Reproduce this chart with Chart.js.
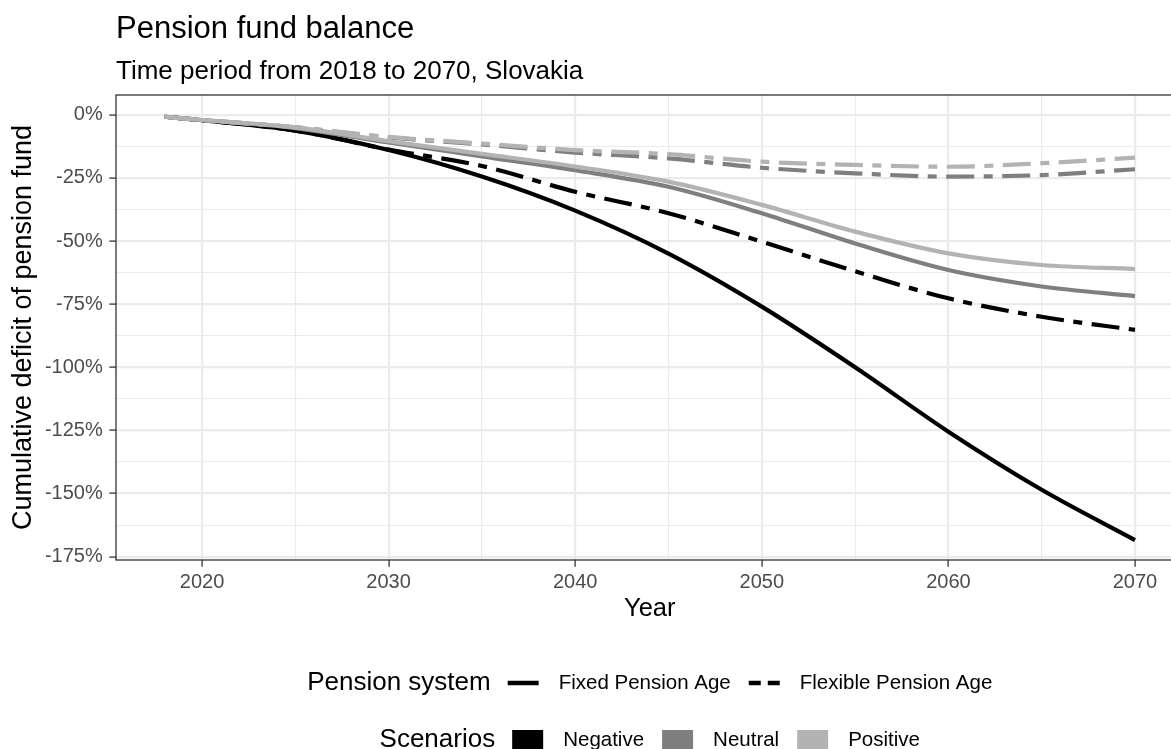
<!DOCTYPE html>
<html>
<head>
<meta charset="utf-8">
<script src="https://cdn.jsdelivr.net/npm/chart.js@4.4.1/dist/chart.umd.min.js"></script>
<style>
  html, body { margin: 0; padding: 0; background: #ffffff; overflow: hidden; }
  #wrap { width: 1200px; height: 749px; }
</style>
</head>
<body>
<div id="wrap"><canvas id="c" width="1200" height="749"></canvas></div>
<script>
// ---------------- data ----------------
const years = [2018, 2020, 2025, 2030, 2035, 2040, 2045, 2050, 2055, 2060, 2065, 2070];
const scenarios = ['Negative', 'Neutral', 'Positive'];
const systems = ['Fixed Pension Age', 'Flexible Pension Age'];

const fixedNegative    = [-0.8, -2.2, -6.3, -14.0, -24.5, -38.0, -55.0, -76.0, -100.0, -125.5, -148.5, -168.4];
const fixedNeutral     = [-0.8, -2.1, -5.3, -11.0, -16.5, -22.0, -28.5, -39.0,  -51.0,  -61.5,  -68.0,  -71.8];
const fixedPositive    = [-0.8, -2.1, -5.0, -10.5, -15.5, -20.5, -26.5, -35.7,  -46.3,  -54.9,  -59.5,  -61.1];
const flexibleNegative = [-0.8, -2.2, -6.3, -13.8, -20.3, -30.5, -39.0, -50.3,  -62.0,  -72.7,  -80.0,  -85.2];
const flexibleNeutral  = [-0.8, -2.1, -5.0,  -9.0, -11.8, -15.0, -17.3, -21.0,  -23.2,  -24.5,  -23.9,  -21.6];
const flexiblePositive = [-0.8, -2.1, -5.0,  -8.8, -11.4, -14.0, -15.6, -18.6,  -19.9,  -20.6,  -19.2,  -17.0];

const yMajorTicks = [0, -25, -50, -75, -100, -125, -150, -175];
const yMinorTicks = [-12.5, -37.5, -62.5, -87.5, -112.5, -137.5, -162.5];
const xMajorTicks = [2020, 2030, 2040, 2050, 2060, 2070];
const xMinorTicks = [2025, 2035, 2045, 2055, 2065];

const titleText = 'Pension fund balance';
const subtitleText = 'Time period from 2018 to 2070, Slovakia';
const xTitle = 'Year';
const yTitle = 'Cumulative deficit of pension fund';
const legendSystemTitle = 'Pension system';
const legendScenarioTitle = 'Scenarios';

// ---------------- styling ----------------
const FONT = '"Liberation Sans", Arial, Helvetica, sans-serif';
const scenarioColors = { Negative: '#000000', Neutral: '#7F7F7F', Positive: '#B3B3B3' };
const flexDash = [28, 9.5, 9, 9.5];

const seriesBySystem = {
  'Fixed Pension Age':    { Negative: fixedNegative,    Neutral: fixedNeutral,    Positive: fixedPositive },
  'Flexible Pension Age': { Negative: flexibleNegative, Neutral: flexibleNeutral, Positive: flexiblePositive }
};

const datasets = [];
systems.forEach((sys, si) => {
  scenarios.forEach((sc, i) => {
    datasets.push({
      label: sc + ' / ' + sys,
      data: years.map((yr, j) => ({ x: yr, y: seriesBySystem[sys][sc][j] })),
      borderColor: scenarioColors[sc],
      backgroundColor: scenarioColors[sc],
      borderWidth: 4.2,
      borderDash: si === 1 ? flexDash : [],
      borderCapStyle: 'butt',
      pointRadius: 0,
      pointHoverRadius: 0,
      fill: false,
      cubicInterpolationMode: 'monotone',
      order: (2 - i) * 2 + si
    });
  });
});

const isMajor = (arr, v) => arr.some(m => Math.abs(m - v) < 1e-6);

// panel border drawn above the data, like ggplot's theme_bw
const panelBorder = {
  id: 'panelBorder',
  afterDatasetsDraw(chart) {
    const { ctx, chartArea: a } = chart;
    ctx.save();
    ctx.strokeStyle = '#333333';
    ctx.lineWidth = 1.3;
    ctx.strokeRect(a.left, a.top, a.right - a.left, a.bottom - a.top);
    ctx.restore();
  }
};

// ggplot-like legends below the plot
const ggLegend = {
  id: 'ggLegend',
  afterDraw(chart) {
    const { ctx, chartArea: a } = chart;
    const cx = (a.left + a.right) / 2;
    const titleFont = '26px ' + FONT;
    const itemFont = '20.5px ' + FONT;
    const keyW = 31, gTitle = 17, gKeyText = 20, gTextKey = 18;
    ctx.save();
    ctx.textBaseline = 'middle';
    ctx.textAlign = 'left';
    ctx.fillStyle = '#000000';

    // row 1 : Pension system
    ctx.font = titleFont;
    const t1 = ctx.measureText(legendSystemTitle).width;
    ctx.font = itemFont;
    const w1 = systems.map(s => ctx.measureText(s).width);
    const total1 = t1 + gTitle + systems.length * (keyW + gKeyText) + w1.reduce((p, c) => p + c, 0) + (systems.length - 1) * gTextKey;
    let x = cx - total1 / 2;
    const y1 = 683;
    ctx.font = titleFont;
    ctx.fillText(legendSystemTitle, x, y1);
    x += t1 + gTitle;
    systems.forEach((s, i) => {
      ctx.strokeStyle = '#000000';
      ctx.lineWidth = 4.5;
      ctx.lineCap = 'butt';
      ctx.beginPath();
      ctx.setLineDash(i === 0 ? [] : [12, 7, 12, 7]);
      ctx.moveTo(x, y1); ctx.lineTo(x + keyW, y1);
      ctx.stroke();
      ctx.setLineDash([]);
      x += keyW + gKeyText;
      ctx.font = itemFont;
      ctx.fillText(s, x, y1);
      x += w1[i] + gTextKey;
    });

    // row 2 : Scenarios
    ctx.font = titleFont;
    const t2 = ctx.measureText(legendScenarioTitle).width;
    ctx.font = itemFont;
    const w2 = scenarios.map(s => ctx.measureText(s).width);
    const total2 = t2 + gTitle + scenarios.length * (keyW + gKeyText) + w2.reduce((p, c) => p + c, 0) + (scenarios.length - 1) * gTextKey;
    x = cx - total2 / 2;
    const y2 = 740;
    ctx.font = titleFont;
    ctx.fillText(legendScenarioTitle, x, y2);
    x += t2 + gTitle;
    scenarios.forEach((s, i) => {
      ctx.fillStyle = scenarioColors[s];
      ctx.fillRect(x, 730, keyW, keyW);
      x += keyW + gKeyText;
      ctx.fillStyle = '#000000';
      ctx.font = itemFont;
      ctx.fillText(s, x, y2);
      x += w2[i] + gTextKey;
    });
    ctx.restore();
  }
};

new Chart(document.getElementById('c'), {
  type: 'line',
  data: { datasets },
  plugins: [panelBorder, ggLegend],
  options: {
    responsive: false,
    animation: false,
    events: [],
    layout: { padding: { top: 0, left: 0, right: 16.5, bottom: 119 } },
    plugins: {
      legend: { display: false },
      tooltip: { enabled: false },
      title: {
        display: true, text: titleText, align: 'start', fullSize: false,
        color: '#000000', font: { family: FONT, size: 31, weight: 'normal' },
        padding: { top: 10.4, bottom: 0 }
      },
      subtitle: {
        display: true, text: subtitleText, align: 'start', fullSize: false,
        color: '#000000', font: { family: FONT, size: 26, weight: 'normal' },
        padding: { top: 8.6, bottom: 7.6 }
      }
    },
    scales: {
      x: {
        type: 'linear',
        min: 2015.39, max: 2072.6,
        afterBuildTicks: s => { s.ticks = [...xMajorTicks, ...xMinorTicks].sort((a, b) => a - b).map(v => ({ value: v })); },
        afterFit: s => { s.height = 70; },
        border: { display: false },
        grid: {
          color: '#EBEBEB',
          lineWidth: c => (c.tick && isMajor(xMajorTicks, c.tick.value)) ? 2.2 : 1.1,
          drawTicks: true, tickLength: 6.7,
          tickColor: c => (c.tick && isMajor(xMajorTicks, c.tick.value)) ? '#333333' : 'rgba(0,0,0,0)',
          tickWidth: 1.3
        },
        ticks: {
          autoSkip: false, maxRotation: 0, padding: 3.3,
          color: '#4D4D4D', font: { family: FONT, size: 20 },
          callback: v => isMajor(xMajorTicks, v) ? String(v) : ''
        },
        title: {
          display: true, text: xTitle, color: '#000000',
          font: { family: FONT, size: 25.5 }, padding: { top: 0, bottom: 6 }
        }
      },
      y: {
        type: 'linear',
        min: -176.3, max: 7.8,
        afterBuildTicks: s => { s.ticks = [...yMajorTicks, ...yMinorTicks].sort((a, b) => a - b).map(v => ({ value: v })); },
        afterFit: s => { s.width = 116; },
        border: { display: false },
        grid: {
          color: '#EBEBEB',
          lineWidth: c => (c.tick && isMajor(yMajorTicks, c.tick.value)) ? 2.2 : 1.1,
          drawTicks: true, tickLength: 6.7,
          tickColor: c => (c.tick && isMajor(yMajorTicks, c.tick.value)) ? '#333333' : 'rgba(0,0,0,0)',
          tickWidth: 1.3
        },
        ticks: {
          autoSkip: false, padding: 6.6,
          color: '#4D4D4D', font: { family: FONT, size: 20 },
          callback: v => isMajor(yMajorTicks, v) ? v + '%' : ''
        },
        title: {
          display: true, text: yTitle, color: '#000000',
          font: { family: FONT, size: 27 }, padding: { top: 7, bottom: 0 }
        }
      }
    }
  }
});
</script>
</body>
</html>
